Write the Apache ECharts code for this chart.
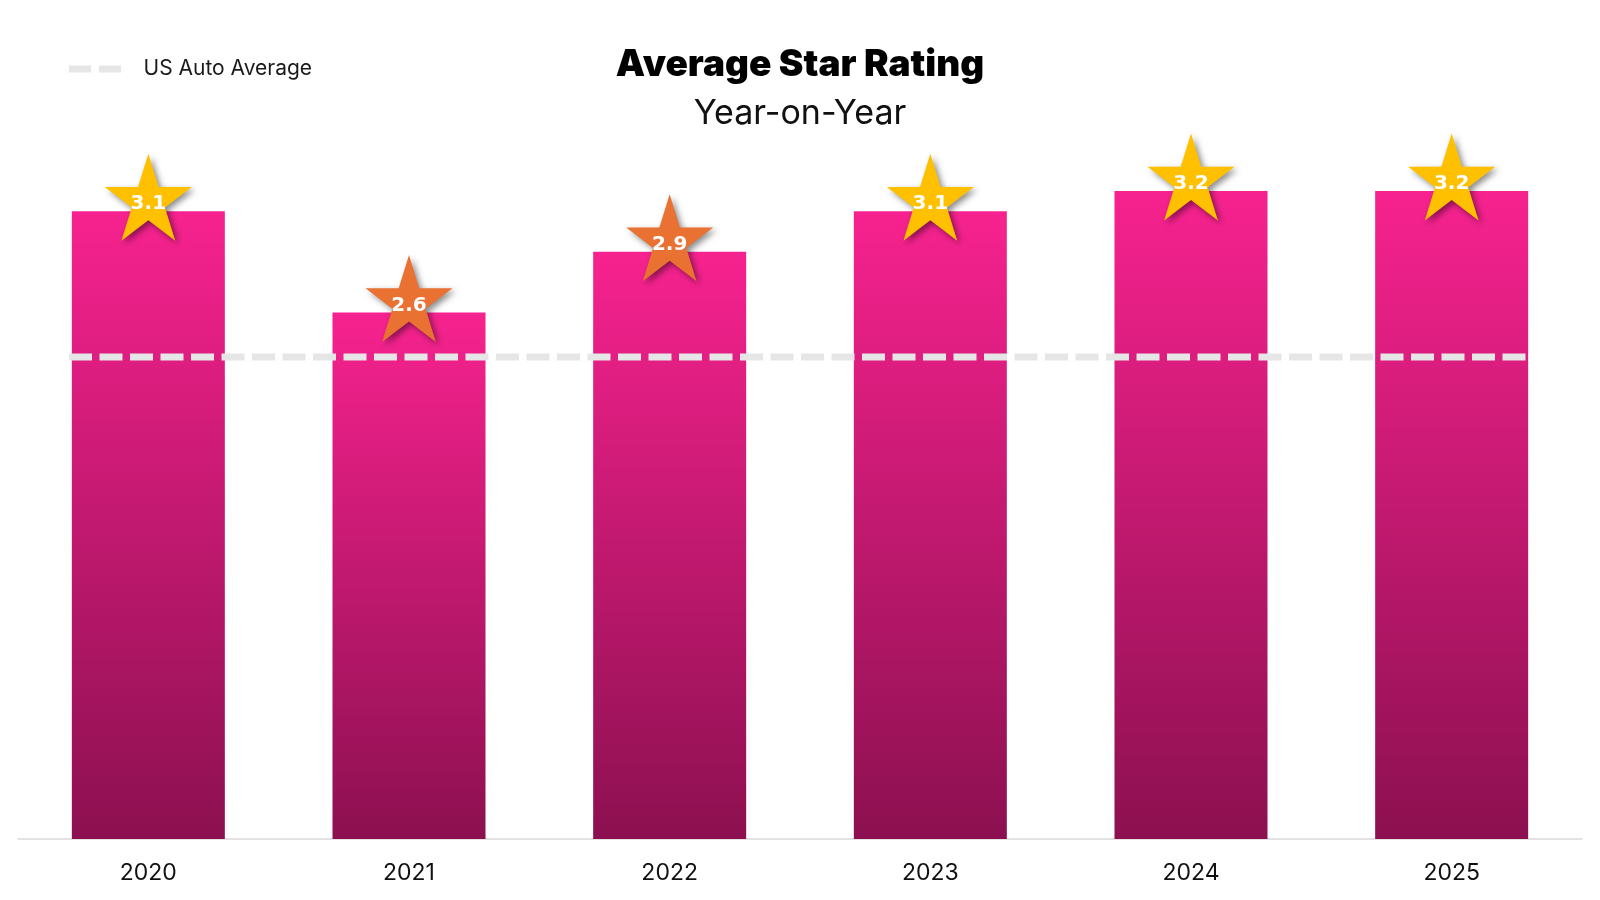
<!DOCTYPE html>
<html>
<head>
<meta charset="utf-8">
<title>Average Star Rating</title>
<script src="https://cdn.jsdelivr.net/npm/echarts@6/dist/echarts.min.js"></script>
<style>
  html, body { margin: 0; padding: 0; background: #fff; }
  #chart { width: 1600px; height: 900px; }
</style>
</head>
<body>
<div id="chart"></div>
<script>
// 数据
var years = ['2020', '2021', '2022', '2023', '2024', '2025'];
var ratings = [3.1, 2.6, 2.9, 3.1, 3.2, 3.2];
var usAutoAverage = [2.38, 2.38, 2.38, 2.38, 2.38, 2.38];

var starPath = 'path://M50,0 L61.23,34.55 L97.55,34.55 L68.16,55.9 L79.39,90.45 L50,69.1 L20.61,90.45 L31.84,55.9 L2.45,34.55 L38.77,34.55 Z';
// 图例里的两段虚线
var dashIcon = 'path://M0,0 H22 V7 H0 Z M30,0 H52 V7 H30 Z';

var myChart = echarts.init(document.getElementById('chart'));

var option = {
    backgroundColor: '#ffffff',
    animation: false,
    title: [
        {
            text: 'Average Star Rating',
            left: 'center',
            top: 46,
            padding: 0,
            textStyle: { fontFamily: 'Inter', fontWeight: 900, fontSize: 37, color: '#000' }
        },
        {
            text: 'Year-on-Year',
            left: 'center',
            top: 97,
            padding: 0,
            textStyle: { fontFamily: 'Inter', fontWeight: 'normal', fontSize: 34, color: '#111' }
        }
    ],
    legend: {
        left: 69,
        top: 57,
        padding: 0,
        itemWidth: 53,
        itemHeight: 7,
        data: [{ name: 'US Auto Average', icon: dashIcon }],
        itemStyle: { color: '#E6E6E6' },
        textStyle: { fontFamily: 'Inter', fontSize: 21, color: '#1a1a1a', padding: [0, 0, 0, 17], lineHeight: 24 }
    },
    grid: [
        { left: 18, right: 18, top: 29, bottom: 61 },
        { left: 69, right: 69, top: 29, bottom: 61 }
    ],
    xAxis: [
        {
            type: 'category',
            data: years,
            gridIndex: 0,
            axisTick: { show: false },
            axisLine: { lineStyle: { color: '#D9D9D9', width: 1.5 } },
            axisLabel: { fontFamily: 'Inter', fontSize: 23, color: '#111', margin: 23 }
        },
        {
            type: 'category',
            data: years,
            gridIndex: 1,
            boundaryGap: false,
            show: false
        }
    ],
    yAxis: [
        { type: 'value', min: 0, max: 4, gridIndex: 0, show: false },
        { type: 'value', min: 0, max: 4, gridIndex: 1, show: false }
    ],
    series: [
        {
            name: 'Rating',
            type: 'bar',
            data: ratings,
            barWidth: '58.7%',
            z: 2,
            itemStyle: {
                color: new echarts.graphic.LinearGradient(0, 0, 0, 1, [
                    { offset: 0, color: '#F7228F' },
                    { offset: 1, color: '#8C1050' }
                ])
            }
        },
        {
            name: 'US Auto Average',
            type: 'line',
            xAxisIndex: 1,
            yAxisIndex: 1,
            data: usAutoAverage,
            symbol: 'none',
            z: 3,
            color: '#E6E6E6',
            lineStyle: { color: '#E6E6E6', width: 7, type: [23, 7.5] }
        },
        {
            name: 'Stars',
            type: 'scatter',
            data: ratings,
            symbol: starPath,
            symbolSize: [87, 87],
            symbolOffset: [0, -14],
            z: 4,
            itemStyle: {
                opacity: 1,
                color: function (p) { return p.value >= 3 ? '#FFC000' : '#E97132'; },
                shadowColor: 'rgba(0,0,0,0.45)',
                shadowBlur: 6,
                shadowOffsetX: 3,
                shadowOffsetY: 3
            },
            label: {
                show: true,
                position: 'inside',
                offset: [0, 7],
                formatter: function (p) { return p.value.toFixed(1); },
                color: '#fff',
                fontFamily: 'DejaVu Sans',
                fontWeight: 'bold',
                fontSize: 20
            }
        }
    ]
};

myChart.setOption(option);
</script>
</body>
</html>
